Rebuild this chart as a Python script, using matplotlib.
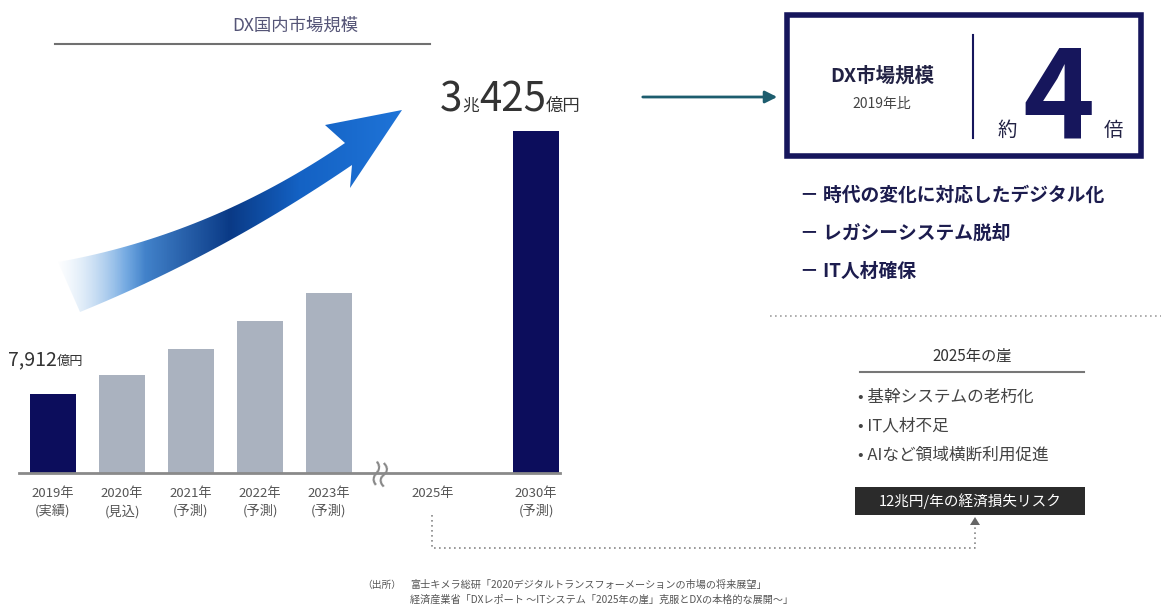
import numpy as np
import matplotlib
matplotlib.use("Agg")
import matplotlib.pyplot as plt
from matplotlib.path import Path
from matplotlib.patches import PathPatch, Rectangle, Polygon
from matplotlib.colors import LinearSegmentedColormap

plt.rcParams['font.family'] = ['Noto Sans CJK JP', 'DejaVu Sans']

# data (億円)
years = ['2019年\n(実績)', '2020年\n(見込)', '2021年\n(予測)', '2022年\n(予測)',
         '2023年\n(予測)', '2025年', '2030年\n(予測)']
positions = [0, 1, 2, 3, 4, 5.5, 7]
market = [7912, 9800, 12400, 15200, 18000, 0, 34250]
bar_colors = ['#0c0d5c', '#aab2bf', '#aab2bf', '#aab2bf', '#aab2bf', 'none', '#0c0d5c']

reasons = ['時代の変化に対応したデジタル化', 'レガシーシステム脱却', 'IT人材確保']
cliff_items = ['基幹システムの老朽化', 'IT人材不足', 'AIなど領域横断利用促進']
sources = ['富士キメラ総研「2020デジタルトランスフォーメーションの市場の将来展望」',
           '経済産業省「DXレポート ～ITシステム「2025年の崖」克服とDXの本格的な展開～」']

W, H = 1161, 608
fig = plt.figure(figsize=(W / 100, H / 100), dpi=100)

# full-figure pixel axes for decorations
bg = fig.add_axes([0, 0, 1, 1])
bg.set_xlim(0, W)
bg.set_ylim(H, 0)
bg.axis('off')

# bar chart axes
base_px = 473
ax = fig.add_axes([1.25 / W, (H - base_px) / H, 569.25 / W, 400 / H])
ax.patch.set_alpha(0)
ax.bar(positions, market, width=0.667, color=bar_colors, zorder=3)
ax.plot([-0.5, 7.35], [0, 0], color='#8a8a8a', lw=2, zorder=4, clip_on=False)
ax.set_xlim(-0.75, 7.5)
ax.set_ylim(0, 40000)
ax.set_yticks([])
ax.set_xticks(positions)
ax.set_xticklabels(years, fontsize=9.5, color='#555555', linespacing=1.4)
ax.tick_params(axis='x', length=0, pad=10)
for s in ax.spines.values():
    s.set_visible(False)

renderer = fig.canvas.get_renderer()


def chain(x, y, parts, color):
    for s, size, weight in parts:
        t = bg.text(x, y, s, fontsize=size, fontweight=weight, color=color,
                    ha='left', va='baseline')
        x += t.get_window_extent(renderer=renderer).width


# title
bg.text(295, 26, 'DX国内市場規模', fontsize=12.5, color='#555577', ha='center', va='center')
bg.plot([55, 430], [44, 44], color='#707070', lw=1.5)

# gradient arrow
def qbez(p0, p1, p2, n=40):
    t = np.linspace(0, 1, n)[:, None]
    p0, p1, p2 = map(np.array, (p0, p1, p2))
    return (1 - t) ** 2 * p0 + 2 * (1 - t) * t * p1 + t ** 2 * p2

upper = qbez((58, 262), (210, 235), (345, 143))
lower = qbez((352, 165), (220, 255), (80, 312))
head = np.array([(325, 125), (402, 110), (350, 188)])
verts = np.vstack([upper, head, lower, [(58, 262)]])
codes = [Path.MOVETO] + [Path.LINETO] * (len(verts) - 2) + [Path.CLOSEPOLY]
arrow_path = Path(verts, codes)
patch = PathPatch(arrow_path, facecolor='none', edgecolor='none')
bg.add_patch(patch)

cmap = LinearSegmentedColormap.from_list('dx', [
    (0.0, '#c4ddf4'), (0.2, '#4f93da'), (0.5, '#0a3a86'),
    (0.7, '#1462c4'), (1.0, '#1f74d8')])
gx = np.linspace(0, 1, 400)
rgba = cmap(np.tile(gx, (60, 1)))
alpha = np.clip((np.linspace(55, 405, 400) - 55) / 90, 0, 1)
rgba[..., 3] = np.tile(alpha, (60, 1))
im = bg.imshow(rgba, extent=(55, 405, 315, 105), aspect='auto', zorder=2)
im.set_clip_path(patch)
bg.set_xlim(0, W)
bg.set_ylim(H, 0)

# break mark
bg.text(381, 470, '≈', fontsize=24, color='#888888', rotation=78,
        ha='center', va='center', zorder=6,
        bbox=dict(boxstyle='square,pad=0', fc='white', ec='none'))

# value labels
chain(8, 365, [('7,912', 14, 'normal'), ('億円', 9.5, 'normal')], '#333333')
chain(440, 111, [('3', 29, 'normal'), ('兆', 12, 'normal'),
                 ('425', 29, 'normal'), ('億円', 12.5, 'normal')], '#333333')

# arrow to the box
bg.annotate('', xy=(780, 97), xytext=(640, 97),
            arrowprops=dict(arrowstyle='-|>', color='#1d5d6e', lw=2, mutation_scale=18))

# ratio box
navy = '#16165c'
bg.add_patch(Rectangle((787, 15), 354, 141, fill=False, ec=navy, lw=4))
bg.plot([973, 973], [35, 138], color=navy, lw=1.5)
bg.text(882, 76, 'DX市場規模', fontsize=14, fontweight='bold', color='#222244',
        ha='center', va='center')
bg.text(882, 104, '2019年比', fontsize=10, color='#444444', ha='center', va='center')
bg.text(1007, 130, '約', fontsize=14, color='#222244', ha='center', va='center')
bg.text(1058, 137, '4', fontsize=88, fontweight='bold', color=navy,
        ha='center', va='baseline')
bg.text(1113, 130, '倍', fontsize=14, color='#222244', ha='center', va='center')

for i, r in enumerate(reasons):
    bg.text(800, 195 + 38 * i, '－ ' + r, fontsize=13.5, fontweight='bold',
            color='#1c1c4e', ha='left', va='center')

bg.plot([770, W], [316, 316], color='#a0a0a0', lw=1.2, ls=(0, (1, 2)))

# 2025 cliff
bg.text(972, 356, '2025年の崖', fontsize=11, color='#333333', ha='center', va='center')
bg.plot([860, 1084], [372, 372], color='#777777', lw=1.5)
for i, c in enumerate(cliff_items):
    bg.text(858, 397 + 29 * i, '• ' + c, fontsize=12, color='#444444',
            ha='left', va='center')
bg.add_patch(Rectangle((855, 487), 230, 28, fc='#2b2b2b', ec='none'))
bg.text(970, 501, '12兆円/年の経済損失リスク', fontsize=10.5, color='white',
        ha='center', va='center')

# dotted connector from 2025 to the risk box
bg.plot([432, 432, 975, 975], [515, 548, 548, 524], color='#888888', lw=1.2,
        ls=(0, (1, 2)))
bg.add_patch(Polygon([(970, 525), (980, 525), (975, 517)], closed=True,
                     fc='#666666', ec='none'))

# source
bg.text(362, 585, '（出所）', fontsize=7, color='#555555', ha='left', va='center')
for i, s in enumerate(sources):
    bg.text(410, 585 + 15 * i, s, fontsize=7.3, color='#555555', ha='left', va='center')

fig.savefig('out.png', dpi=100)
